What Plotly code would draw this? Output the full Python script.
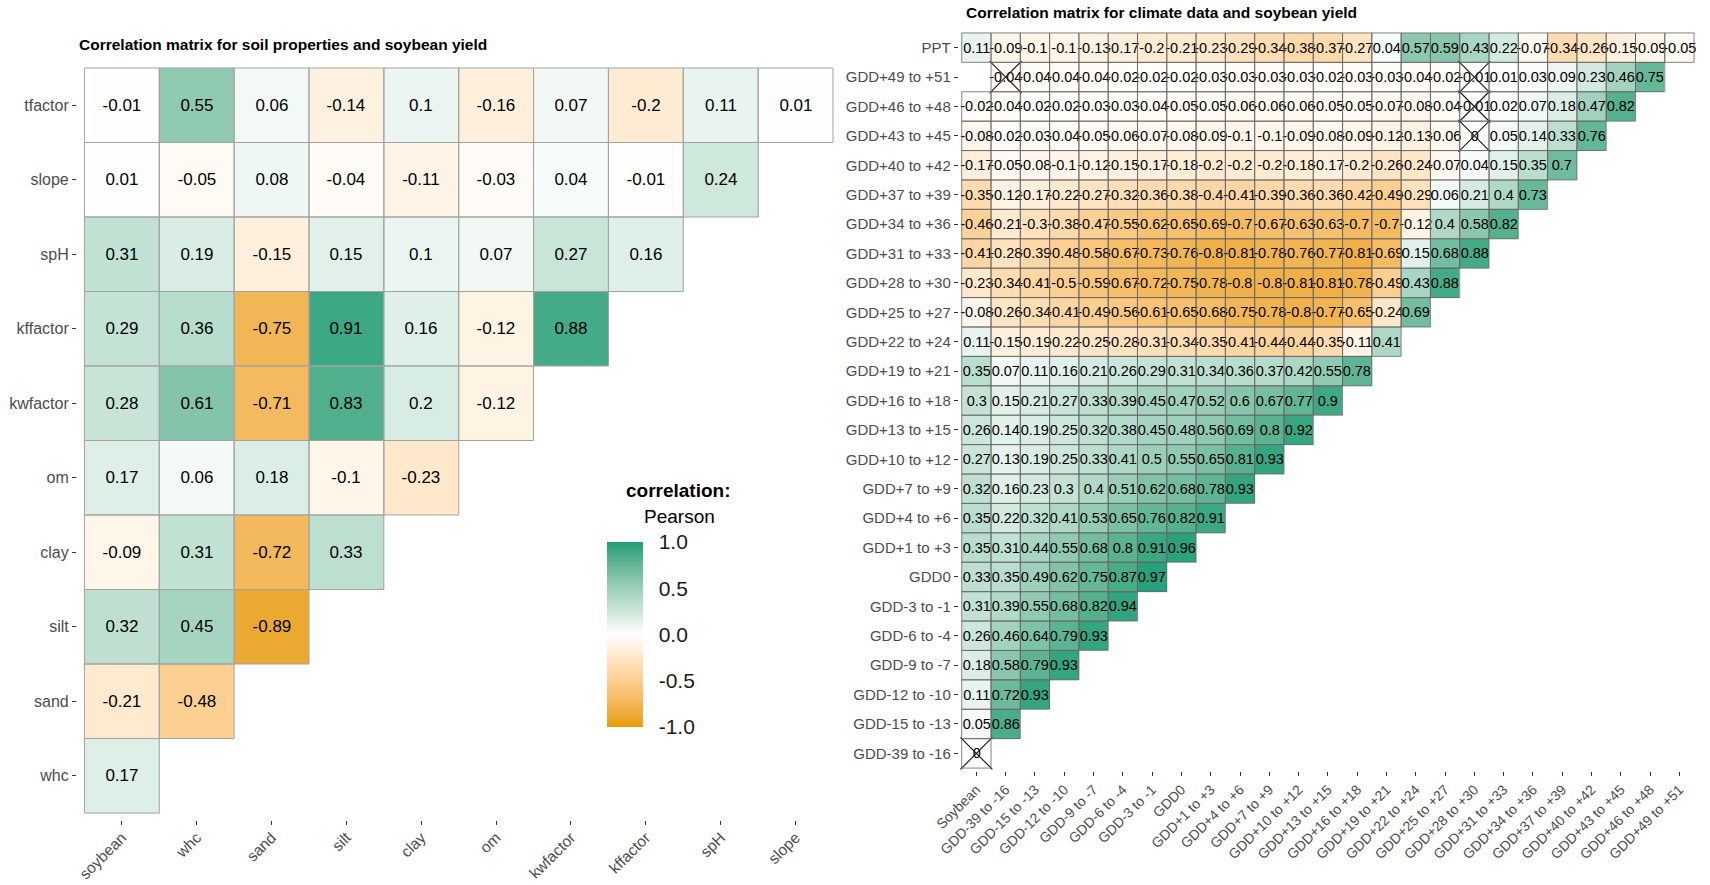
import plotly.graph_objects as go

# ---------------- soil panel ----------------
soil_cols = ["soybean", "whc", "sand", "silt", "clay", "om", "kwfactor", "kffactor", "spH", "slope"]
soil_rows = ["whc", "sand", "silt", "clay", "om", "kwfactor", "kffactor", "spH", "slope", "tfactor"]  # bottom -> top

tfactor = [-0.01, 0.55, 0.06, -0.14, 0.1, -0.16, 0.07, -0.2, 0.11, 0.01]
slope = [0.01, -0.05, 0.08, -0.04, -0.11, -0.03, 0.04, -0.01, 0.24]
spH = [0.31, 0.19, -0.15, 0.15, 0.1, 0.07, 0.27, 0.16]
kffactor = [0.29, 0.36, -0.75, 0.91, 0.16, -0.12, 0.88]
kwfactor = [0.28, 0.61, -0.71, 0.83, 0.2, -0.12]
om = [0.17, 0.06, 0.18, -0.1, -0.23]
clay = [-0.09, 0.31, -0.72, 0.33]
silt = [0.32, 0.45, -0.89]
sand = [-0.21, -0.48]
whc = [0.17]

# ---------------- climate panel ----------------
clim_cols = ["Soybean", "GDD-39 to -16", "GDD-15 to -13", "GDD-12 to -10", "GDD-9 to -7", "GDD-6 to -4",
             "GDD-3 to -1", "GDD0", "GDD+1 to +3", "GDD+4 to +6", "GDD+7 to +9", "GDD+10 to +12",
             "GDD+13 to +15", "GDD+16 to +18", "GDD+19 to +21", "GDD+22 to +24", "GDD+25 to +27",
             "GDD+28 to +30", "GDD+31 to +33", "GDD+34 to +36", "GDD+37 to +39", "GDD+40 to +42",
             "GDD+43 to +45", "GDD+46 to +48", "GDD+49 to +51"]
clim_rows = clim_cols[1:] + ["PPT"]  # bottom -> top

ppt = [0.11, -0.09, -0.1, -0.1, -0.13, -0.17, -0.2, -0.21, -0.23, -0.29, -0.34, -0.38, -0.37, -0.27, 0.04,
       0.57, 0.59, 0.43, 0.22, -0.07, -0.34, -0.26, -0.15, -0.09, -0.05]
gdd_p49 = [None, -0.04, -0.04, -0.04, -0.04, -0.02, -0.02, -0.02, -0.03, -0.03, -0.03, -0.03, -0.02, -0.03,
           -0.03, -0.04, -0.02, -0.01, 0.01, 0.03, 0.09, 0.23, 0.46, 0.75]
gdd_p46 = [-0.02, -0.04, -0.02, -0.02, -0.03, -0.03, -0.04, -0.05, -0.05, -0.06, -0.06, -0.06, -0.05, -0.05,
           -0.07, -0.08, -0.04, -0.01, 0.02, 0.07, 0.18, 0.47, 0.82]
gdd_p43 = [-0.08, -0.02, -0.03, -0.04, -0.05, -0.06, -0.07, -0.08, -0.09, -0.1, -0.1, -0.09, -0.08, -0.09,
           -0.12, -0.13, -0.06, 0, 0.05, 0.14, 0.33, 0.76]
gdd_p40 = [-0.17, -0.05, -0.08, -0.1, -0.12, -0.15, -0.17, -0.18, -0.2, -0.2, -0.2, -0.18, -0.17, -0.2,
           -0.26, -0.24, -0.07, 0.04, 0.15, 0.35, 0.7]
gdd_p37 = [-0.35, -0.12, -0.17, -0.22, -0.27, -0.32, -0.36, -0.38, -0.4, -0.41, -0.39, -0.36, -0.36, -0.42,
           -0.49, -0.29, 0.06, 0.21, 0.4, 0.73]
gdd_p34 = [-0.46, -0.21, -0.3, -0.38, -0.47, -0.55, -0.62, -0.65, -0.69, -0.7, -0.67, -0.63, -0.63, -0.7,
           -0.7, -0.12, 0.4, 0.58, 0.82]
gdd_p31 = [-0.41, -0.28, -0.39, -0.48, -0.58, -0.67, -0.73, -0.76, -0.8, -0.81, -0.78, -0.76, -0.77, -0.81,
           -0.69, 0.15, 0.68, 0.88]
gdd_p28 = [-0.23, -0.34, -0.41, -0.5, -0.59, -0.67, -0.72, -0.75, -0.78, -0.8, -0.8, -0.81, -0.81, -0.78,
           -0.49, 0.43, 0.88]
gdd_p25 = [-0.08, -0.26, -0.34, -0.41, -0.49, -0.56, -0.61, -0.65, -0.68, -0.75, -0.78, -0.8, -0.77, -0.65,
           -0.24, 0.69]
gdd_p22 = [0.11, -0.15, -0.19, -0.22, -0.25, -0.28, -0.31, -0.34, -0.35, -0.41, -0.44, -0.44, -0.35, -0.11, 0.41]
gdd_p19 = [0.35, 0.07, 0.11, 0.16, 0.21, 0.26, 0.29, 0.31, 0.34, 0.36, 0.37, 0.42, 0.55, 0.78]
gdd_p16 = [0.3, 0.15, 0.21, 0.27, 0.33, 0.39, 0.45, 0.47, 0.52, 0.6, 0.67, 0.77, 0.9]
gdd_p13 = [0.26, 0.14, 0.19, 0.25, 0.32, 0.38, 0.45, 0.48, 0.56, 0.69, 0.8, 0.92]
gdd_p10 = [0.27, 0.13, 0.19, 0.25, 0.33, 0.41, 0.5, 0.55, 0.65, 0.81, 0.93]
gdd_p7 = [0.32, 0.16, 0.23, 0.3, 0.4, 0.51, 0.62, 0.68, 0.78, 0.93]
gdd_p4 = [0.35, 0.22, 0.32, 0.41, 0.53, 0.65, 0.76, 0.82, 0.91]
gdd_p1 = [0.35, 0.31, 0.44, 0.55, 0.68, 0.8, 0.91, 0.96]
gdd_0 = [0.33, 0.35, 0.49, 0.62, 0.75, 0.87, 0.97]
gdd_m3 = [0.31, 0.39, 0.55, 0.68, 0.82, 0.94]
gdd_m6 = [0.26, 0.46, 0.64, 0.79, 0.93]
gdd_m9 = [0.18, 0.58, 0.79, 0.93]
gdd_m12 = [0.11, 0.72, 0.93]
gdd_m15 = [0.05, 0.86]
gdd_m39 = [0]

# non-significant cells (crossed out)
insig_x = ["GDD-39 to -16", "GDD+28 to +30", "GDD+28 to +30", "GDD+28 to +30", "Soybean"]
insig_y = ["GDD+49 to +51", "GDD+49 to +51", "GDD+46 to +48", "GDD+43 to +45", "GDD-39 to -16"]

LOW, MID, HIGH = "#E69F00", "#FFFFFF", "#1B9E77"


# ggplot gradient2 interpolates in CIELAB, mimic that for the colorscale
def hex_to_lab(h):
    rgb = [int(h[i:i + 2], 16) / 255 for i in (1, 3, 5)]
    lin = [c / 12.92 if c <= 0.04045 else ((c + 0.055) / 1.055) ** 2.4 for c in rgb]
    X = (0.4124 * lin[0] + 0.3576 * lin[1] + 0.1805 * lin[2]) / 0.95047
    Y = (0.2126 * lin[0] + 0.7152 * lin[1] + 0.0722 * lin[2])
    Z = (0.0193 * lin[0] + 0.1192 * lin[1] + 0.9505 * lin[2]) / 1.08883
    f = lambda t: t ** (1 / 3) if t > 0.008856 else 7.787 * t + 16 / 116
    fx, fy, fz = f(X), f(Y), f(Z)
    return (116 * fy - 16, 500 * (fx - fy), 200 * (fy - fz))


def lab_to_rgb(lab):
    L, a, b = lab
    fy = (L + 16) / 116
    fx = fy + a / 500
    fz = fy - b / 200
    g = lambda t: t ** 3 if t ** 3 > 0.008856 else (t - 16 / 116) / 7.787
    X, Y, Z = g(fx) * 0.95047, g(fy), g(fz) * 1.08883
    lin = [3.2406 * X - 1.5372 * Y - 0.4986 * Z,
           -0.9689 * X + 1.8758 * Y + 0.0415 * Z,
           0.0557 * X - 0.2040 * Y + 1.0570 * Z]
    out = []
    for c in lin:
        c = max(0.0, min(1.0, c))
        c = 12.92 * c if c <= 0.0031308 else 1.055 * c ** (1 / 2.4) - 0.055
        out.append(round(c * 255))
    return "rgb(%d,%d,%d)" % tuple(out)


def lab_scale(n=10):
    lo, mi, hi = hex_to_lab(LOW), hex_to_lab(MID), hex_to_lab(HIGH)
    stops = []
    for i in range(n + 1):
        f = i / n
        stops.append([f / 2, lab_to_rgb([lo[k] + (mi[k] - lo[k]) * f for k in range(3)])])
    for i in range(1, n + 1):
        f = i / n
        stops.append([0.5 + f / 2, lab_to_rgb([mi[k] + (hi[k] - mi[k]) * f for k in range(3)])])
    return stops


def build(rows, ncol):
    z, txt = [], []
    for r in rows:
        zr = list(r) + [None] * (ncol - len(r))
        z.append(zr)
        txt.append(["" if v is None else f"{v:g}" for v in zr])
    return z, txt


def outlines(z, xref, yref, color, width):
    # one outline per filled tile, placed on the category index of the tile
    out = []
    for i, row in enumerate(z):
        for j, v in enumerate(row):
            if v is None:
                continue
            out.append(dict(type="rect", xref=xref, yref=yref, x0=j - 0.5, x1=j + 0.5, y0=i - 0.5, y1=i + 0.5,
                            line=dict(color=color, width=width), fillcolor="rgba(0,0,0,0)", layer="above"))
    return out


soil_z, soil_txt = build([whc, sand, silt, clay, om, kwfactor, kffactor, spH, slope, tfactor], len(soil_cols))
clim_z, clim_txt = build([gdd_m39, gdd_m15, gdd_m12, gdd_m9, gdd_m6, gdd_m3, gdd_0, gdd_p1, gdd_p4,
                          gdd_p7, gdd_p10, gdd_p13, gdd_p16, gdd_p19, gdd_p22, gdd_p25, gdd_p28,
                          gdd_p31, gdd_p34, gdd_p37, gdd_p40, gdd_p43, gdd_p46, gdd_p49, ppt], len(clim_cols))

fig = go.Figure()

fig.add_trace(go.Heatmap(x=soil_cols, y=soil_rows, z=soil_z, text=soil_txt, texttemplate="%{text}",
                         textfont=dict(size=17, color="black", family="Liberation Sans, Arial"),
                         coloraxis="coloraxis", xaxis="x", yaxis="y"))

fig.add_trace(go.Heatmap(x=clim_cols, y=clim_rows, z=clim_z, text=clim_txt, texttemplate="%{text}",
                         textfont=dict(size=14.5, color="black", family="Liberation Sans, Arial"),
                         coloraxis="coloraxis", xaxis="x2", yaxis="y2"))

fig.add_trace(go.Scatter(x=insig_x, y=insig_y, mode="markers", xaxis="x2", yaxis="y2", showlegend=False,
                         hoverinfo="skip",
                         marker=dict(symbol="x-thin", size=32, color="#222222",
                                     line=dict(width=1.2, color="#222222"))))

tick_font = dict(family="Liberation Sans, Arial", color="#4d4d4d")
axis_common = dict(type="category", showgrid=False, zeroline=False, showline=False, automargin=False,
                   ticks="outside", ticklen=4, tickcolor="#333333", tickwidth=1)

fig.update_layout(
    width=1710, height=885,
    margin=dict(l=0, r=0, t=0, b=0),
    paper_bgcolor="white", plot_bgcolor="white",
    showlegend=False,
    xaxis=dict(axis_common, domain=[0.0450, 0.4915], range=[-0.6, len(soil_cols) - 0.4],
               tickangle=-45, tickfont=dict(tick_font, size=15.5), ticklabelstandoff=-3, anchor="y"),
    yaxis=dict(axis_common, domain=[0.0729, 0.9316], range=[-0.6, len(soil_rows) - 0.4],
               tickfont=dict(tick_font, size=16), anchor="x"),
    xaxis2=dict(axis_common, domain=[0.5607, 0.9924], range=[-0.6, len(clim_cols) - 0.4],
                tickangle=-45, tickfont=dict(tick_font, size=14), anchor="y2"),
    yaxis2=dict(axis_common, domain=[0.1288, 0.9661], range=[-0.6, len(clim_rows) - 0.4],
                tickfont=dict(tick_font, size=15), anchor="x2"),
    coloraxis=dict(
        cmin=-1, cmax=1, colorscale=lab_scale(),
        colorbar=dict(x=607 / 1710, xanchor="left", y=1 - 634.5 / 885, yanchor="middle",
                      thickness=36, lenmode="pixels", len=185, xpad=0, ypad=0, outlinewidth=0,
                      tickvals=[-1, -0.5, 0, 0.5, 1], ticktext=["-1.0", "-0.5", "0.0", "0.5", "1.0"],
                      ticks="outside", ticklen=12, tickcolor="rgba(0,0,0,0)",
                      tickfont=dict(size=21, color="#1a1a1a", family="Liberation Sans, Arial")),
    ),
    shapes=outlines(soil_z, "x", "y", "#a3a3a3", 1) + outlines(clim_z, "x2", "y2", "#666666", 0.8),
    annotations=[
        dict(text="<b>Correlation matrix for soil properties and soybean yield</b>", x=77 / 1710,
             y=1 - 44 / 885, xref="paper", yref="paper", xanchor="left", yanchor="middle", showarrow=False,
             font=dict(size=15.5, color="black", family="Liberation Sans, Arial")),
        dict(text="<b>Correlation matrix for climate data and soybean yield</b>", x=964 / 1710,
             y=1 - 13 / 885, xref="paper", yref="paper", xanchor="left", yanchor="middle", showarrow=False,
             font=dict(size=15.5, color="black", family="Liberation Sans, Arial")),
        dict(text="<b>correlation:</b>", x=678 / 1710, y=1 - 490 / 885, xref="paper", yref="paper",
             xanchor="center", yanchor="middle", showarrow=False,
             font=dict(size=19, color="black", family="Liberation Sans, Arial")),
        dict(text="Pearson", x=679 / 1710, y=1 - 516 / 885, xref="paper", yref="paper",
             xanchor="center", yanchor="middle", showarrow=False,
             font=dict(size=19, color="black", family="Liberation Sans, Arial")),
    ],
)

fig.write_html("out.html", config={"displayModeBar": False},
               post_script="document.body.style.margin='0';document.body.style.overflow='hidden';")
